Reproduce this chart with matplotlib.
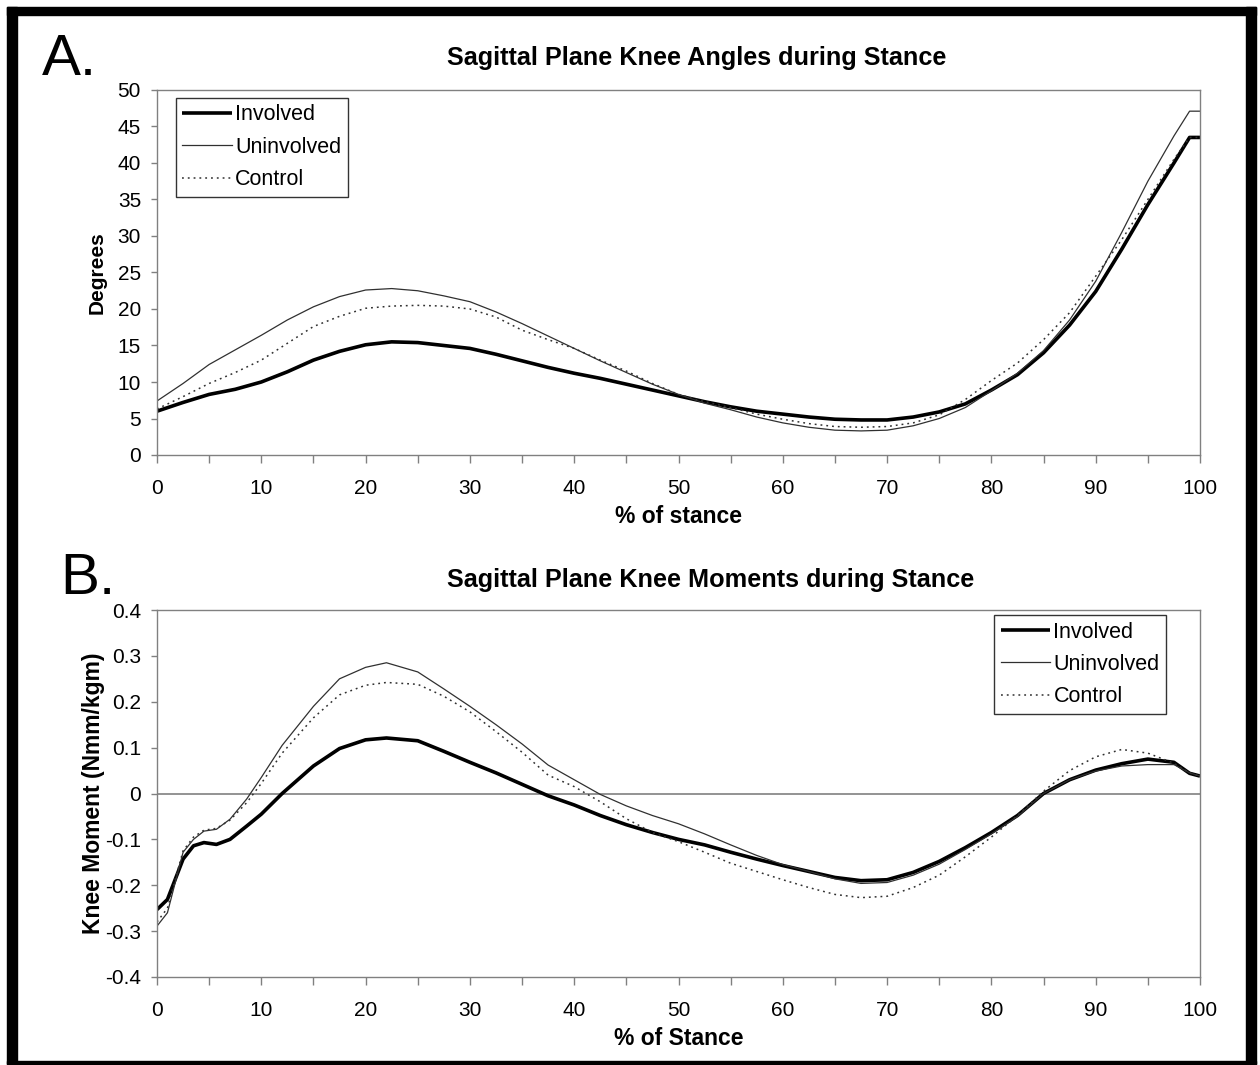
import matplotlib
matplotlib.use("Agg")
import matplotlib.pyplot as plt
from matplotlib.patches import Rectangle

plt.rcParams['font.family'] = ['Liberation Sans', 'DejaVu Sans']

# 데이터
# A. 무릎 각도 (degrees)
x_ang = [0, 2.5, 5, 7.5, 10, 12.5, 15, 17.5, 20, 22.5, 25, 27.5, 30, 32.5, 35, 37.5, 40,
         42.5, 45, 47.5, 50, 52.5, 55, 57.5, 60, 62.5, 65, 67.5, 70, 72.5, 75, 77.5, 80,
         82.5, 85, 87.5, 90, 92.5, 95, 97.5, 99, 100]
ang_involved = [6.0, 7.2, 8.3, 9.0, 10.0, 11.4, 13.0, 14.2, 15.1, 15.5, 15.4, 15.0, 14.6, 13.8,
                12.9, 12.0, 11.2, 10.5, 9.7, 8.9, 8.1, 7.3, 6.6, 6.0, 5.6, 5.2, 4.9, 4.8, 4.8,
                5.2, 5.9, 7.0, 8.9, 11.0, 14.0, 17.8, 22.4, 28.2, 34.3, 40.0, 43.5, 43.5]
ang_uninvolved = [7.4, 9.8, 12.4, 14.4, 16.4, 18.5, 20.3, 21.7, 22.6, 22.8, 22.5, 21.8, 21.0,
                  19.6, 18.0, 16.3, 14.6, 12.9, 11.3, 9.7, 8.3, 7.1, 6.2, 5.2, 4.4, 3.8, 3.4,
                  3.3, 3.4, 4.0, 5.0, 6.5, 8.8, 11.2, 14.3, 18.5, 23.8, 30.5, 37.5, 43.7, 47.1, 47.1]
ang_control = [6.3, 8.0, 9.8, 11.3, 13.0, 15.3, 17.6, 19.0, 20.1, 20.4, 20.5, 20.4, 20.0, 18.9,
               17.1, 15.8, 14.6, 13.0, 11.5, 9.8, 8.3, 7.3, 6.5, 5.6, 4.9, 4.3, 3.9, 3.8, 3.9,
               4.4, 5.5, 7.6, 10.2, 12.6, 15.8, 19.5, 24.5, 29.5, 35.0, 40.5, 43.5, 43.5]

# B. 무릎 모멘트 (Nmm/kgm)
x_mom = [0, 1, 2.5, 3.5, 4.5, 5.7, 7, 8.6, 10, 12, 15, 17.5, 20, 22, 25, 27.5, 30, 32.5, 35,
         37.5, 40, 42.5, 45, 47.5, 50, 52.5, 55, 57.5, 60, 62.5, 65, 67.5, 70, 72.5, 75, 77.5,
         80, 82.5, 85, 87.5, 90, 92.5, 95, 97.5, 99, 100]
mom_involved = [-0.253, -0.231, -0.143, -0.114, -0.107, -0.111, -0.100, -0.071, -0.045, 0.0,
                0.060, 0.098, 0.117, 0.121, 0.115, 0.092, 0.068, 0.045, 0.020, -0.005, -0.025,
                -0.048, -0.068, -0.085, -0.100, -0.112, -0.128, -0.143, -0.157, -0.170, -0.183,
                -0.190, -0.188, -0.172, -0.148, -0.118, -0.085, -0.048, 0.0, 0.030, 0.051,
                0.065, 0.075, 0.068, 0.044, 0.038]
mom_uninvolved = [-0.289, -0.260, -0.128, -0.100, -0.082, -0.078, -0.056, -0.012, 0.035, 0.105,
                  0.190, 0.250, 0.275, 0.285, 0.265, 0.228, 0.190, 0.150, 0.108, 0.062, 0.030,
                  -0.002, -0.027, -0.048, -0.066, -0.088, -0.112, -0.135, -0.155, -0.170,
                  -0.186, -0.196, -0.194, -0.178, -0.154, -0.122, -0.088, -0.050, 0.0, 0.030,
                  0.049, 0.060, 0.063, 0.063, 0.045, 0.038]
mom_control = [-0.280, -0.250, -0.125, -0.095, -0.080, -0.076, -0.058, -0.020, 0.022, 0.088,
               0.165, 0.215, 0.236, 0.242, 0.238, 0.212, 0.178, 0.135, 0.090, 0.040, 0.015,
               -0.018, -0.055, -0.085, -0.105, -0.128, -0.152, -0.170, -0.188, -0.205, -0.220,
               -0.227, -0.224, -0.205, -0.178, -0.138, -0.095, -0.048, 0.005, 0.050, 0.080,
               0.096, 0.088, 0.066, 0.045, 0.038]

x_ticks = list(range(0, 101, 10))
ang_ticks = list(range(0, 51, 5))
mom_ticks = [-0.4, -0.3, -0.2, -0.1, 0, 0.1, 0.2, 0.3, 0.4]
mom_ticklabels = ['-0.4', '-0.3', '-0.2', '-0.1', '0', '0.1', '0.2', '0.3', '0.4']

W, H = 1260, 1065
GRAY = '#808080'


def ax_rect(left, top, right, bottom):
    # 픽셀 좌표 -> figure 비율
    return [left / W, 1 - bottom / H, (right - left) / W, (bottom - top) / H]


def style_axes(ax):
    for sp in ax.spines.values():
        sp.set_color(GRAY)
        sp.set_linewidth(1.0)
    ax.set_xlim(0, 100)
    ax.set_xticks(x_ticks)
    ax.set_xticks(list(range(5, 100, 10)), minor=True)
    ax.tick_params(axis='x', which='both', direction='out', length=5.5, width=1,
                   color=GRAY, pad=12, labelsize=15)
    ax.tick_params(axis='y', direction='out', length=4.5, width=1, color=GRAY,
                   pad=7, labelsize=15)


def draw_lines(ax, x, inv, uninv, ctrl):
    ax.plot(x, inv, color='black', lw=2.6, label='Involved', solid_capstyle='butt')
    ax.plot(x, uninv, color='#303030', lw=0.9, label='Uninvolved')
    ax.plot(x, ctrl, color='#303030', lw=1.1, linestyle=(0, (1.2, 2.6)), label='Control')


def add_legend(ax, loc, anchor):
    leg = ax.legend(loc=loc, bbox_to_anchor=anchor, fontsize=15.5, frameon=True,
                    fancybox=False, borderaxespad=0, handlelength=2.3,
                    handletextpad=0.15, labelspacing=0.53, borderpad=0.3)
    leg.get_frame().set_edgecolor('black')
    leg.get_frame().set_linewidth(1.0)
    return leg


fig = plt.figure(figsize=(W / 100, H / 100), dpi=100)

# A 패널
axA = fig.add_axes(ax_rect(157, 90, 1200, 455))
draw_lines(axA, x_ang, ang_involved, ang_uninvolved, ang_control)
style_axes(axA)
axA.set_ylim(0, 50)
axA.set_yticks(ang_ticks)
axA.set_xlabel('% of stance', fontsize=16.5, fontweight='bold', labelpad=5)
axA.set_ylabel('Degrees', fontsize=15, fontweight='bold', labelpad=8)
add_legend(axA, 'upper left', (0.018, 0.978))

# B 패널
axB = fig.add_axes(ax_rect(157, 610, 1200, 977))
axB.axhline(0, color=GRAY, lw=1.2, zorder=1)
draw_lines(axB, x_mom, mom_involved, mom_uninvolved, mom_control)
style_axes(axB)
axB.set_ylim(-0.4, 0.4)
axB.set_yticks(mom_ticks)
axB.set_yticklabels(mom_ticklabels)
axB.set_xlabel('% of Stance', fontsize=16.5, fontweight='bold', labelpad=5)
axB.set_ylabel('Knee Moment (Nmm/kgm)', fontsize=16.5, fontweight='bold', labelpad=0)
add_legend(axB, 'upper right', (0.9674, 0.986))

# 제목과 패널 글자
fig.text(447 / W, 1 - 58 / H, 'Sagittal Plane Knee Angles during Stance', fontsize=18.2,
         fontweight='bold', ha='left', va='center')
fig.text(447 / W, 1 - 580 / H, 'Sagittal Plane Knee Moments during Stance', fontsize=18.2,
         fontweight='bold', ha='left', va='center')
fig.text(42 / W, 1 - 60 / H, 'A.', fontsize=42, ha='left', va='center')
fig.text(60 / W, 1 - 579 / H, 'B.', fontsize=42, ha='left', va='center')

# 검은 테두리
for (l, t, r, b) in [(7, 7, 17, 1064), (7, 7, 1256, 15), (1246, 7, 1256, 1064), (7, 1061, 1256, 1064)]:
    fig.patches.append(Rectangle((l / W, 1 - b / H), (r - l) / W, (b - t) / H,
                                 transform=fig.transFigure, color='black', zorder=10))

fig.savefig('out.png', dpi=100)
